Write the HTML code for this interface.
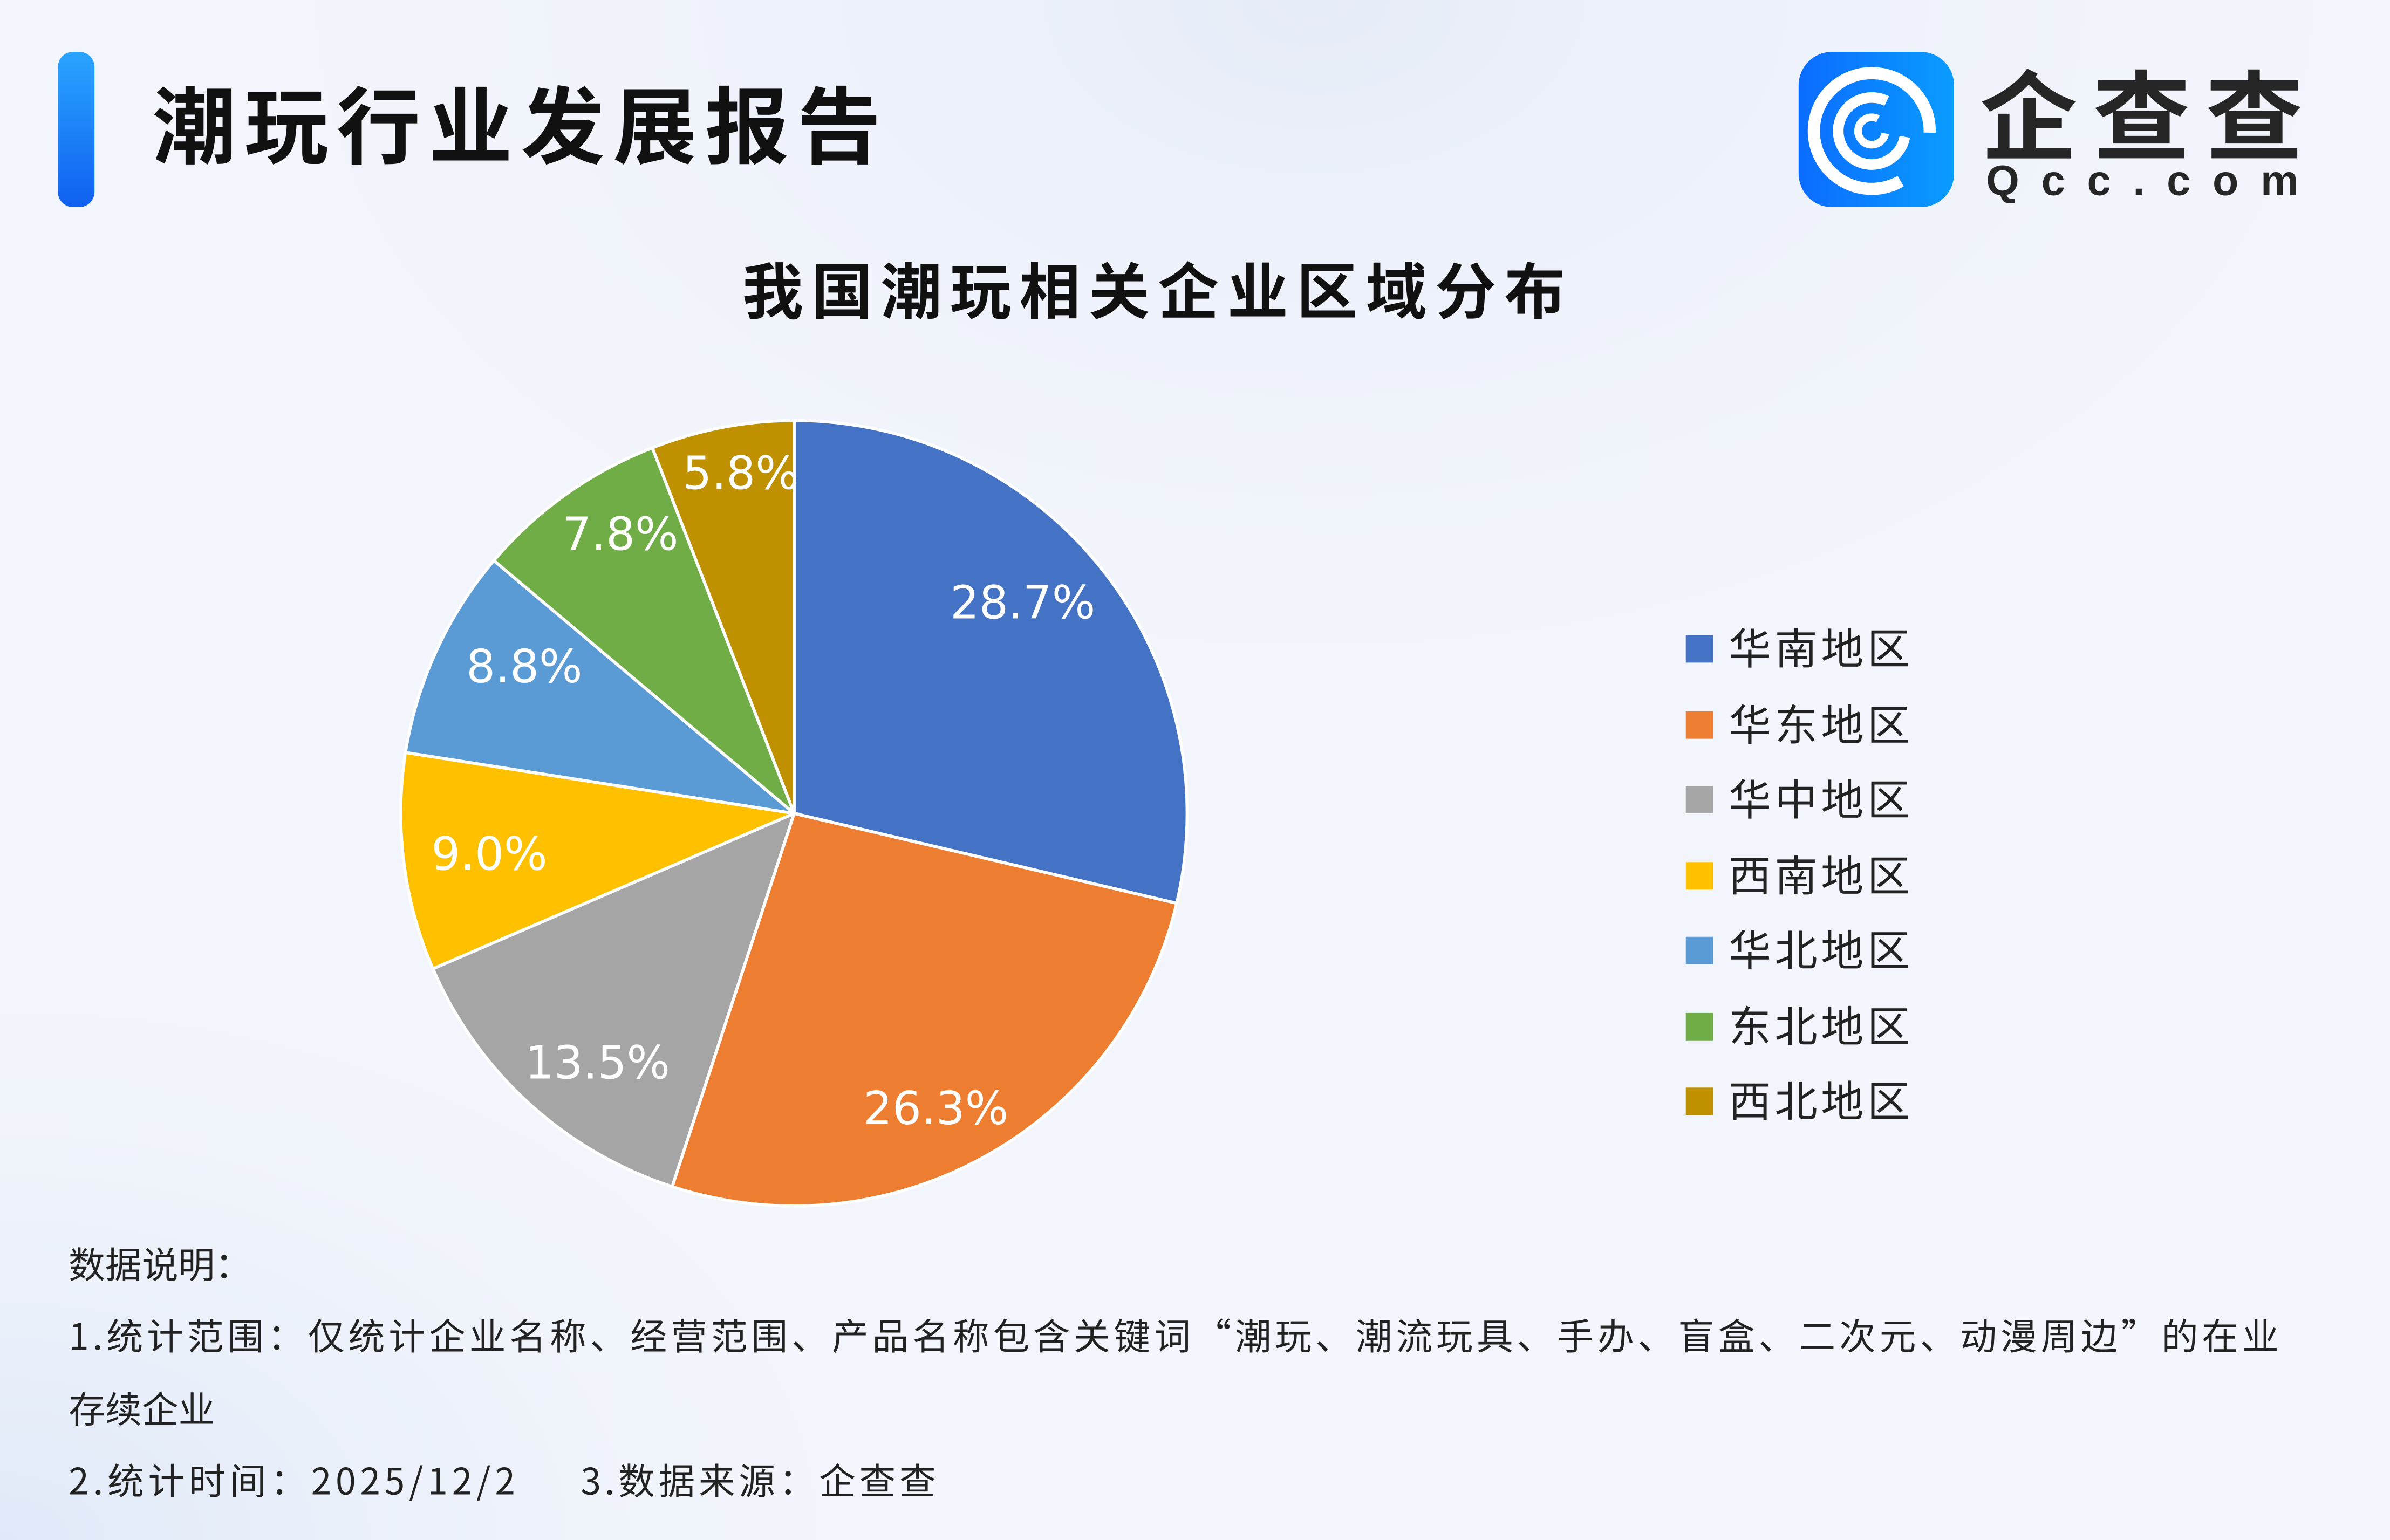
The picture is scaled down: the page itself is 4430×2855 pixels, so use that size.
<!DOCTYPE html>
<html><head><meta charset="utf-8"><style>
html,body{margin:0;padding:0;width:4430px;height:2855px;overflow:hidden;background:#eff3fb;}
svg{display:block;}
text{font-family:"Liberation Sans","Noto Sans CJK SC",sans-serif;}
.cjk{font-family:"Noto Sans CJK SC",sans-serif;}
.dv{font-family:"DejaVu Sans",sans-serif;}
</style></head><body>
<svg width="4430" height="2855" viewBox="0 0 1568 1011" preserveAspectRatio="none" xmlns="http://www.w3.org/2000/svg">
<defs>
<radialGradient id="bg1" cx="0.55" cy="0" r="0.5"><stop offset="0" stop-color="#e6ecf8"/><stop offset="1" stop-color="#f1f4fb" stop-opacity="0"/></radialGradient>
<radialGradient id="bg2" cx="0" cy="1" r="0.4"><stop offset="0" stop-color="#dfe9f8"/><stop offset="1" stop-color="#f1f4fb" stop-opacity="0"/></radialGradient>
<linearGradient id="bar" x1="0" y1="0" x2="0" y2="1"><stop offset="0" stop-color="#2aa4ff"/><stop offset="1" stop-color="#1060f0"/></linearGradient>
<linearGradient id="logo" x1="0" y1="0" x2="1" y2="0"><stop offset="0" stop-color="#0b6cff"/><stop offset="1" stop-color="#0a9cff"/></linearGradient>
</defs>
<rect width="1568" height="1011" fill="#f2f5fb"/>
<rect width="1568" height="1011" fill="url(#bg1)"/>
<rect width="1568" height="1011" fill="url(#bg2)"/>
<rect x="38" y="34" width="24" height="102" rx="10" fill="url(#bar)"/>
<text class="cjk" x="100" y="103" font-size="55" font-weight="bold" fill="#111" textLength="478">潮玩行业发展报告</text>
<rect x="1180" y="34" width="102" height="102" rx="22" fill="url(#logo)"/>
<circle cx="1228" cy="86" r="38" fill="none" stroke="#fff" stroke-width="8" stroke-dasharray="200 40" transform="rotate(60 1228 86)"/>
<circle cx="1228" cy="86" r="22" fill="none" stroke="#fff" stroke-width="7" stroke-dasharray="110 30" transform="rotate(10 1228 86)"/>
<circle cx="1228" cy="86" r="9" fill="none" stroke="#fff" stroke-width="5" stroke-dasharray="45 12" transform="rotate(10 1228 86)"/>
<text class="cjk" x="1299" y="100" font-size="64" font-weight="bold" fill="#262626" textLength="212">企查查</text>
<text x="1303" y="128" font-size="28" font-weight="bold" fill="#262626" textLength="205">Qcc.com</text>
<text class="cjk" x="757" y="206" font-size="40" font-weight="bold" fill="#111" text-anchor="middle" textLength="540">我国潮玩相关企业区域分布</text>
<g stroke="#fff" stroke-width="2">
<path d="M521,534 L521,276 A258,258 0 0 1 772,593 Z" fill="#4472c4"/>
<path d="M521,534 L772,593 A258,258 0 0 1 441,779 Z" fill="#ed7d31"/>
<path d="M521,534 L441,779 A258,258 0 0 1 284,636 Z" fill="#a5a5a5"/>
<path d="M521,534 L284,636 A258,258 0 0 1 266,494 Z" fill="#ffc000"/>
<path d="M521,534 L266,494 A258,258 0 0 1 324,368 Z" fill="#5b9bd5"/>
<path d="M521,534 L324,368 A258,258 0 0 1 428,294 Z" fill="#70ad47"/>
<path d="M521,534 L428,294 A258,258 0 0 1 521,276 Z" fill="#bf9000"/>
</g>
<g class="dv" font-size="30" fill="#fff" text-anchor="middle">
<text class="dv" x="671" y="406">28.7%</text>
<text class="dv" x="614" y="738">26.3%</text>
<text class="dv" x="392" y="708">13.5%</text>
<text class="dv" x="321" y="571">9.0%</text>
<text class="dv" x="344" y="448">8.8%</text>
<text class="dv" x="407" y="361">7.8%</text>
<text class="dv" x="486" y="321">5.8%</text>
</g>
<g font-size="28" fill="#222">
<rect x="1106" y="417" width="18" height="18" fill="#4472c4"/><text class="cjk" x="1134" y="436" textLength="119">华南地区</text>
<rect x="1106" y="467" width="18" height="18" fill="#ed7d31"/><text class="cjk" x="1134" y="486" textLength="119">华东地区</text>
<rect x="1106" y="516" width="18" height="18" fill="#a5a5a5"/><text class="cjk" x="1134" y="535" textLength="119">华中地区</text>
<rect x="1106" y="566" width="18" height="18" fill="#ffc000"/><text class="cjk" x="1134" y="585" textLength="119">西南地区</text>
<rect x="1106" y="615" width="18" height="18" fill="#5b9bd5"/><text class="cjk" x="1134" y="634" textLength="119">华北地区</text>
<rect x="1106" y="665" width="18" height="18" fill="#70ad47"/><text class="cjk" x="1134" y="684" textLength="119">东北地区</text>
<rect x="1106" y="714" width="18" height="18" fill="#bf9000"/><text class="cjk" x="1134" y="733" textLength="119">西北地区</text>
</g>
<g font-size="24" fill="#222">
<text class="cjk" x="45" y="839">数据说明：</text>
<text class="cjk" x="45" y="886" textLength="1450">1.统计范围：仅统计企业名称、经营范围、产品名称包含关键词“潮玩、潮流玩具、手办、盲盒、二次元、动漫周边”的在业</text>
<text class="cjk" x="45" y="934">存续企业</text>
<text class="cjk" x="45" y="981" textLength="293">2.统计时间：2025/12/2</text>
<text class="cjk" x="381" y="981" textLength="233">3.数据来源：企查查</text>
</g>
</svg>
</body></html>
